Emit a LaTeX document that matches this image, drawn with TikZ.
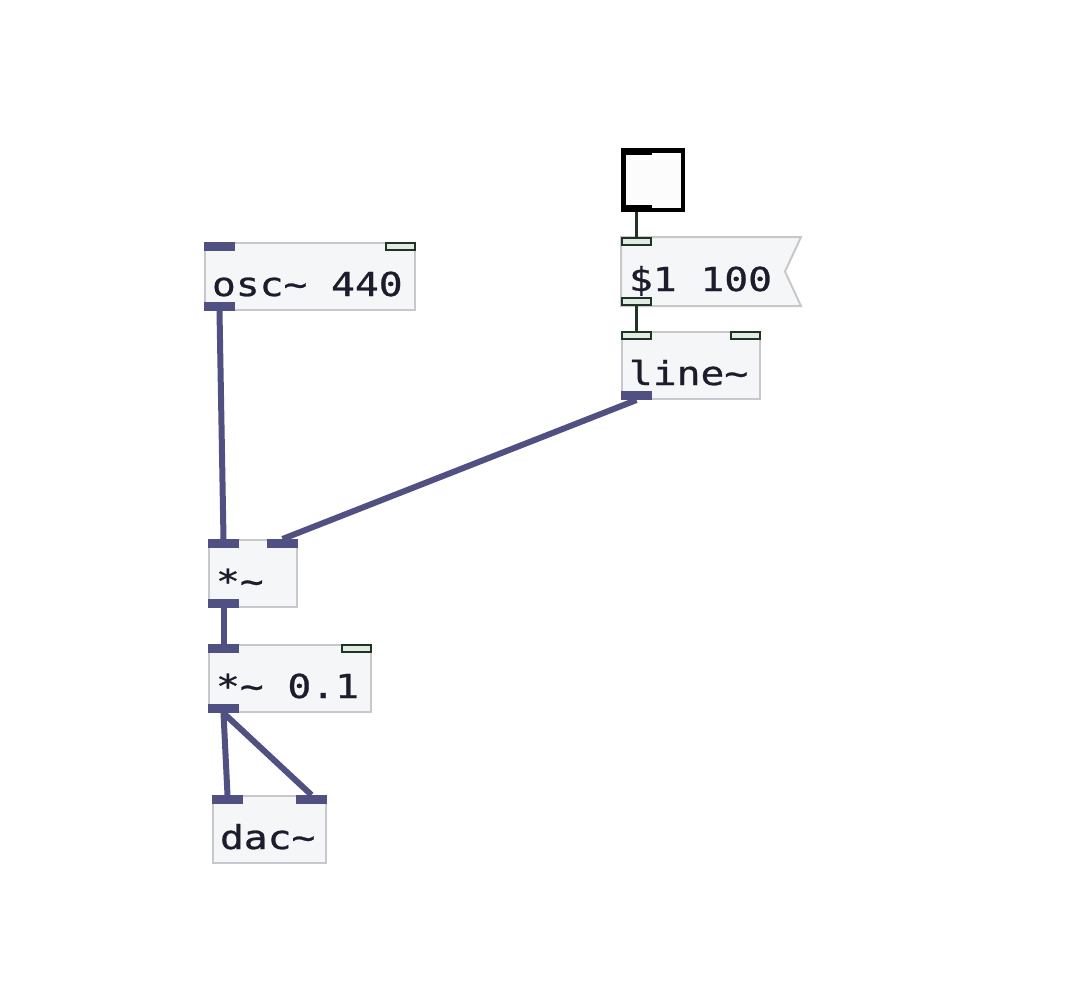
\documentclass[tikz,border=0pt]{standalone}
\usepackage{fontspec}
\newfontfamily\pdfont[FakeStretch=1.2,FakeBold=0.8]{DejaVu Sans Mono}
\DeclareRobustCommand\pdtype{\pdfont\fontsize{33}{33}\selectfont}
\usepackage{tikz}
\usetikzlibrary{backgrounds}
\definecolor{pdsig}{RGB}{80,80,130}
\definecolor{pdctl}{RGB}{32,52,36}
\definecolor{pdctlfill}{RGB}{226,234,228}
\definecolor{pdbox}{RGB}{200,200,204}
\definecolor{pdboxfill}{RGB}{245,246,248}
\definecolor{pdtext}{RGB}{28,28,44}
\tikzset{pdobj/.style={rectangle,draw=pdbox,fill=pdboxfill,line width=2pt,anchor=north west,inner xsep=7pt,inner ysep=0pt,text height=53pt,text depth=14pt,text width=#1,align=left,text=pdtext,font=\pdtype,
                       execute at begin node={\spaceskip=23.8pt\relax\xspaceskip=23.8pt\relax}},
         pdmsg/.style={pdobj=#1,draw=none,fill=none},
         msgflag/.style={draw=pdbox,fill=pdboxfill,line width=2pt},
         tgl/.style={rectangle,draw=black,fill=white!98!gray,line width=4.5pt,anchor=north west,minimum size=59.5pt,inner sep=0pt},
         sigin/.style={rectangle,fill=pdsig,inner sep=0pt,outer sep=0pt,minimum width=31pt,minimum height=9pt,anchor=north west},
         sigout/.style={sigin,anchor=south west},
         ctlin/.style={rectangle,draw=pdctl,fill=pdctlfill,line width=2pt,inner sep=0pt,minimum width=29pt,minimum height=7pt,anchor=north west},
         ctlout/.style={ctlin,anchor=south west},
         tglport/.style={rectangle,fill=black,inner sep=0pt,outer sep=0pt,minimum width=31pt,minimum height=7pt},
         sigwire/.style={draw=pdsig,line width=6pt},
         ctlwire/.style={draw=pdctl,line width=3pt}}
\begin{document}
\begin{tikzpicture}[x=1pt,y=-1pt]
    \useasboundingbox (0,0) rectangle (1079,994);
    % boxes
    \node (osc) [pdobj=196pt] at (204,242) {osc\textasciitilde{} 440};
    \node (tgl) [tgl] at (621,148) {};
    \node (msg) [pdmsg=164pt] at (621,237) {\$1 100};
    \node (line) [pdobj=124pt] at (621,331) {line\textasciitilde};
    \node (mul) [pdobj=74pt] at (208,539) {*\textasciitilde};
    \node (mulc) [pdobj=148pt] at (208,644) {*\textasciitilde{} 0.1};
    \node (dac) [pdobj=99pt] at (212,795) {dac\textasciitilde};
    \begin{scope}[on background layer]
      \path[msgflag] (msg.north west) -- (msg.north east) -- ([xshift=-16pt]msg.east) -- (msg.south east) -- (msg.south west) -- cycle;
    \end{scope}
    % inlets and outlets
    \node (osc-in0) [sigin] at (osc.north west) {};
    \node (osc-in1) [ctlin,anchor=north east] at (osc.north east) {};
    \node (osc-out0) [sigout] at (osc.south west) {};
    \node (tgl-in0) [tglport,anchor=north west] at (tgl.north west) {};
    \node (tgl-out0) [tglport,anchor=south west] at (tgl.south west) {};
    \node (msg-in0) [ctlin] at (msg.north west) {};
    \node (msg-out0) [ctlout] at (msg.south west) {};
    \node (line-in0) [ctlin] at (line.north west) {};
    \node (line-in1) [ctlin,anchor=north east] at (line.north east) {};
    \node (line-out0) [sigout] at (line.south west) {};
    \node (mul-in0) [sigin] at (mul.north west) {};
    \node (mul-in1) [sigin,anchor=north east] at (mul.north east) {};
    \node (mul-out0) [sigout] at (mul.south west) {};
    \node (mulc-in0) [sigin] at (mulc.north west) {};
    \node (mulc-in1) [ctlin,anchor=north east] at (mulc.north east) {};
    \node (mulc-out0) [sigout] at (mulc.south west) {};
    \node (dac-in0) [sigin] at (dac.north west) {};
    \node (dac-in1) [sigin,anchor=north east] at (dac.north east) {};
    % wires
    \draw[ctlwire] (tgl-out0.south) -- (msg-in0.north);
    \draw[ctlwire] (msg-out0.south) -- (line-in0.north);
    \draw[sigwire] (osc-out0.south) -- (mul-in0.north);
    \draw[sigwire] (line-out0.south) -- (mul-in1.north);
    \draw[sigwire] (mul-out0.south) -- (mulc-in0.north);
    \foreach \i in {0,1} {\draw[sigwire] (mulc-out0.south) -- (dac-in\i.north);}
  \end{tikzpicture}
\end{document}
